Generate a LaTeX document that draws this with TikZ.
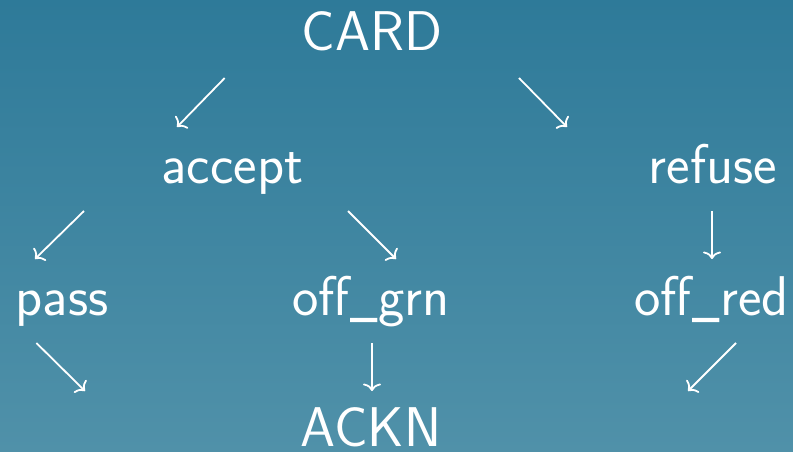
\documentclass[tikz,border=0pt]{standalone}
\usetikzlibrary{calc,arrows.meta}
\usepackage{graphicx}
\definecolor{bgtop}{RGB}{46,122,153}
\definecolor{bgbot}{RGB}{80,145,169}
\newcommand{\usc}{\kern1pt\raisebox{2pt}{\scalebox{0.78}[1]{\_}}\kern1pt}
\tikzset{
  lbl/.style={anchor=base, inner sep=0pt, text=white, font=\sffamily\fontsize{56}{60}\selectfont},
  arr/.style={-{To[length=7.5pt,width=18pt]}, draw=white, line width=1.8pt}
}
\begin{document}
\begin{tikzpicture}[x=1pt,y=1pt]
\shade[top color=bgtop, bottom color=bgbot] (0,0) rectangle (793,451);
\useasboundingbox (0,0) rectangle (793,451);
\node[lbl] (card)   at (372,400.5) {CARD};
\node[lbl] (accept) at (232.5,268) {accept};
\node[lbl] (refuse) at (713,268) {refuse};
\node[lbl] (pass)   at (62,135.5) {pass};
\node[lbl] (offgrn) at (371,135.5) {off\usc grn};
\node[lbl] (offred) at (711.5,135.5) {off\usc red};
\node[lbl] (ackn)   at (371,5) {ACKN};
\coordinate (passend) at (85,60);
\coordinate (offredend) at (688,60);
\draw[arr] ($(card.base)+(-147.3,-27.5)$) -- ($(accept.base)+(-55.5,56)$);
\draw[arr] ($(card.base)+(147,-27.5)$) -- ($(refuse.base)+(-146,56)$);
\draw[arr] ($(accept.base)+(-148.5,-28)$) -- ($(pass.base)+(-27,56.5)$);
\draw[arr] ($(accept.base)+(115.5,-28)$) -- ($(offgrn.base)+(25,56.5)$);
\draw[arr] ($(refuse.base)+(-1,-28)$) -- ($(offred.base)+(0.5,56.5)$);
\draw[arr] ($(pass.base)+(-25.6,-27.5)$) -- (passend);
\draw[arr] ($(offgrn.base)+(1,-27.5)$) -- ($(ackn.base)+(1,55)$);
\draw[arr] ($(offred.base)+(24.5,-27.5)$) -- (offredend);
\end{tikzpicture}
\end{document}
